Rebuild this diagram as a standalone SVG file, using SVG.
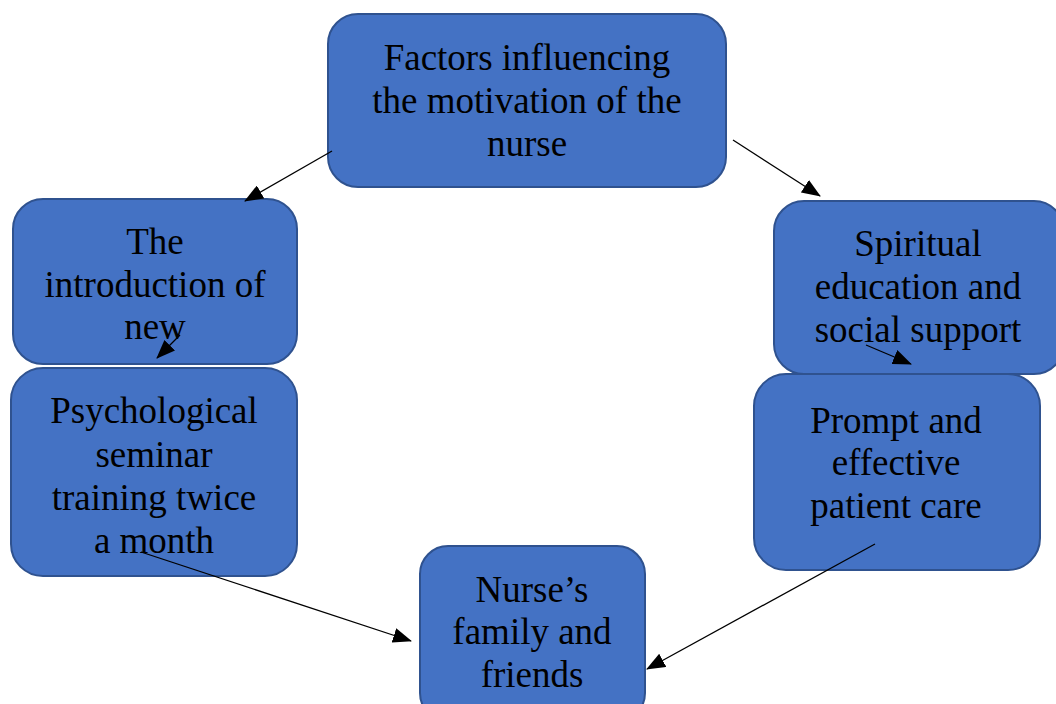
<svg xmlns="http://www.w3.org/2000/svg" width="1056" height="704" viewBox="0 0 1056 704">
<style>
.box{fill:#4472C4;stroke:#2F528F;stroke-width:2}
.t{font-family:"Liberation Serif","Times New Roman",serif;font-size:37px;fill:#000;text-anchor:middle}
.c{stroke:#000;stroke-width:1.3;fill:none;marker-end:url(#ah)}
</style>
<defs>
<marker id="ah" markerUnits="userSpaceOnUse" markerWidth="19" markerHeight="15" refX="18" refY="7.5" orient="auto">
<path d="M0,0 L19,7.5 L0,15 Z" fill="#000"/>
</marker>
</defs>
<rect width="1056" height="704" fill="#fff"/>
<g id="n-top">
<rect class="box" x="328" y="14" width="398" height="173" rx="30"/>
<text class="t" x="527" y="70">Factors influencing</text>
<text class="t" x="527" y="113">the motivation of the</text>
<text class="t" x="527" y="156">nurse</text>
</g>
<g id="n-intro">
<rect class="box" x="13" y="199" width="284" height="165" rx="30"/>
<text class="t" x="155" y="254">The</text>
<text class="t" x="155" y="297">introduction of</text>
<text class="t" x="155" y="339">new</text>
</g>
<g id="n-psych">
<rect class="box" x="11" y="368" width="286" height="208" rx="32"/>
<text class="t" x="154" y="423">Psychological</text>
<text class="t" x="154" y="467">seminar</text>
<text class="t" x="154" y="510">training twice</text>
<text class="t" x="154" y="553">a month</text>
</g>
<g id="n-spirit">
<rect class="box" x="774" y="201" width="290" height="173" rx="30"/>
<text class="t" x="918" y="256">Spiritual</text>
<text class="t" x="918" y="299">education and</text>
<text class="t" x="918" y="342">social support</text>
</g>
<g id="n-prompt">
<rect class="box" x="754" y="374" width="286" height="196" rx="32"/>
<text class="t" x="896" y="433">Prompt and</text>
<text class="t" x="896" y="475">effective</text>
<text class="t" x="896" y="518">patient care</text>
</g>
<g id="n-family">
<rect class="box" x="420" y="546" width="225" height="175" rx="28"/>
<text class="t" x="532" y="602">Nurse’s</text>
<text class="t" x="532" y="644">family and</text>
<text class="t" x="532" y="687">friends</text>
</g>
<g id="connectors">
<line class="c" x1="332" y1="151" x2="245" y2="201"/>
<line class="c" x1="733" y1="140" x2="820" y2="196"/>
<line class="c" x1="180" y1="335" x2="157" y2="358"/>
<line class="c" x1="866" y1="345" x2="911" y2="364"/>
<line class="c" x1="141" y1="552" x2="411" y2="641"/>
<line class="c" x1="875" y1="544" x2="647" y2="669"/>
</g>
</svg>
